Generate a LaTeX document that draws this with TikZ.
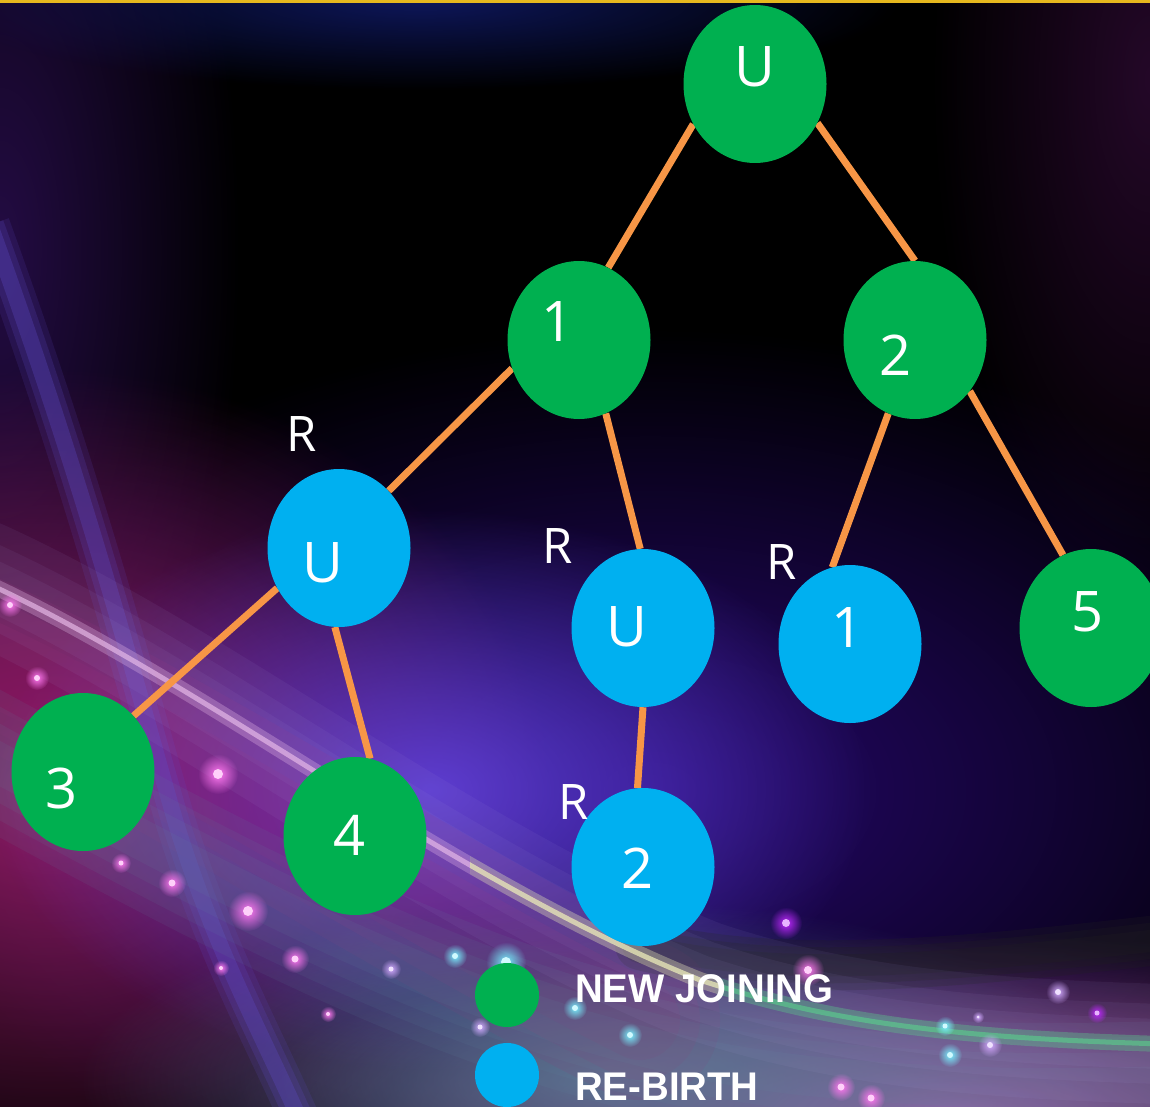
\documentclass[tikz,border=0pt]{standalone}
\usepackage{fontspec}
\setmainfont{Open Sans}
\newfontfamily\legendfont{Liberation Sans}
\usetikzlibrary{shapes.geometric,fadings}
\tikzfading[name=softglow, inner color=transparent!0, outer color=transparent!100]
\definecolor{ngreen}{HTML}{00B050}
\definecolor{nblue}{HTML}{00B0F0}
\definecolor{linkor}{HTML}{F79646}
\definecolor{goldline}{HTML}{E6B81E}
\definecolor{hazeTL}{RGB}{45,15,85}
\definecolor{hazeTR}{RGB}{45,10,50}
\definecolor{navyglow}{RGB}{15,25,100}
\definecolor{magglow}{RGB}{160,30,110}
\definecolor{vioglow}{RGB}{100,70,230}
\definecolor{indglow}{RGB}{45,10,130}
\definecolor{pinkglow}{RGB}{175,85,175}
\definecolor{lavband}{RGB}{95,75,200}
\definecolor{streakpink}{RGB}{235,190,235}
\definecolor{streakyel}{RGB}{235,235,185}
\definecolor{streakgrn}{RGB}{90,210,140}
\definecolor{tealband}{RGB}{95,140,160}
\definecolor{dotpink}{RGB}{255,120,240}
\definecolor{dotcyan}{RGB}{120,240,255}
\definecolor{dotlil}{RGB}{210,170,255}
\definecolor{dotpur}{RGB}{190,40,255}
\newcommand\bgglow[6]{\fill[#5, opacity=#6, path fading=softglow] (#1,#2) ellipse [x radius={2*#3}, y radius={2*#4}];}
\newcommand\sparkdot[4]{\fill[#3, path fading=softglow] (#1,#2) circle [radius={4*#4}]; \fill[#3!35!white] (#1,#2) circle [radius={#4}];}
\pgfdeclarelayer{front}
\pgfsetlayers{main,front}
\begin{document}
\begin{tikzpicture}[x=1pt,y=-1pt,
  treenode/.style={ellipse, minimum width=143pt, minimum height=158pt, inner sep=0pt},
  gnode/.style={treenode, fill=ngreen},
  bnode/.style={treenode, fill=nblue},
  ntext/.style={text=white, font=\fontsize{56}{60}\selectfont, inner sep=0pt},
  rtext/.style={text=white, font=\fontsize{49}{52}\selectfont, inner sep=0pt},
  legdot/.style={circle, minimum size=64pt, inner sep=0pt},
  legtext/.style={text=white, font=\legendfont\bfseries\fontsize{40}{44}\selectfont, inner sep=0pt, anchor=base west},
  link/.style={draw=linkor, line width=7pt},
  softband/.style={line cap=round, opacity=#1},
  softband/.default=.1]
\useasboundingbox (0,0) rectangle (1150,1107);
\begin{scope}
\clip (0,0) rectangle (1150,1107);
% ---------- background ----------
\fill[black] (0,0) rectangle (1150,1107);
\bgglow{0}{250}{120}{320}{hazeTL}{0.8}
\bgglow{1150}{80}{110}{260}{hazeTR}{0.8}
\bgglow{420}{0}{240}{45}{navyglow}{0.9}
\bgglow{650}{790}{380}{230}{indglow}{0.85}
\bgglow{50}{790}{250}{210}{magglow}{0.9}
\bgglow{430}{790}{220}{140}{vioglow}{0.85}
\bgglow{950}{1115}{360}{90}{pinkglow}{0.95}
\bgglow{600}{1080}{260}{90}{tealband}{0.7}
% broad diagonal magenta band
\foreach \w in {160,120,80} {
  \draw[line width=\w pt, magglow, softband=.12] (-60,640) .. controls (150,730) and (400,900) .. (640,1020);
}
% lavender band from top left
\foreach \w/\o in {40/.15,28/.2,16/.3} {
  \draw[line width=\w pt, lavband, opacity=\o] (-10,225) .. controls (90,500) and (140,700) .. (175,820) .. controls (215,950) and (260,1030) .. (300,1120);
}
% bottom teal band
\foreach \w in {130,100,70,40} {
  \draw[line width=\w pt, tealband, softband=.1] (-80,720) .. controls (250,900) and (500,1040) .. (800,1075) .. controls (950,1090) and (1050,1090) .. (1200,1085);
}
% dark grey band right
\foreach \w in {50,36,22} {
  \draw[line width=\w pt, black!75!gray, softband=.25] (640,945) .. controls (780,980) and (950,965) .. (1200,935);
}
% broad haze around streak
\foreach \w in {120,80,50} {
  \draw[line width=\w pt, lavband!50!white, softband=.07] (-20,580) .. controls (200,680) and (450,880) .. (700,980) .. controls (850,1030) and (1000,1040) .. (1200,1045);
}
% bright streak
\begin{scope}
\clip (-10,0) rectangle (470,1107);
\draw[line width=16pt, streakpink, opacity=.3] (-20,580) .. controls (200,680) and (450,880) .. (700,980);
\draw[line width=5pt, streakpink, opacity=.65] (-20,580) .. controls (200,680) and (450,880) .. (700,980);
\end{scope}
\begin{scope}
\clip (470,0) rectangle (720,1107);
\draw[line width=16pt, streakyel, opacity=.35] (-20,580) .. controls (200,680) and (450,880) .. (700,980) .. controls (850,1030) and (1000,1040) .. (1200,1045);
\draw[line width=5pt, streakyel, opacity=.75] (-20,580) .. controls (200,680) and (450,880) .. (700,980) .. controls (850,1030) and (1000,1040) .. (1200,1045);
\end{scope}
\begin{scope}
\clip (720,0) rectangle (1200,1107);
\draw[line width=16pt, streakgrn, opacity=.35] (700,980) .. controls (850,1030) and (1000,1040) .. (1200,1045);
\draw[line width=5pt, streakgrn, opacity=.6] (700,980) .. controls (850,1030) and (1000,1040) .. (1200,1045);
\end{scope}
% gold top line
\fill[goldline] (0,0) rectangle (1150,3);
% sparkles
\sparkdot{10}{605}{dotpink}{3}
\sparkdot{37}{678}{dotpink}{3}
\sparkdot{218}{774}{dotpink}{5}
\sparkdot{121}{863}{dotpink}{2.5}
\sparkdot{172}{883}{dotpink}{3.5}
\sparkdot{248}{911}{dotpink}{5}
\sparkdot{295}{959}{dotpink}{3.5}
\sparkdot{221}{968}{dotpink}{2}
\sparkdot{391}{969}{dotlil}{2.5}
\sparkdot{328}{1014}{dotpink}{2}
\sparkdot{455}{956}{dotcyan}{3}
\sparkdot{506}{962}{dotcyan}{5}
\sparkdot{575}{1008}{dotcyan}{3}
\sparkdot{480}{1027}{dotlil}{2.5}
\sparkdot{630}{1035}{dotcyan}{3}
\sparkdot{786}{923}{dotpur}{4}
\sparkdot{808}{970}{dotpink}{4}
\sparkdot{945}{1026}{dotcyan}{2.5}
\sparkdot{978}{1017}{dotlil}{1.5}
\sparkdot{990}{1045}{dotlil}{3}
\sparkdot{950}{1055}{dotcyan}{3}
\sparkdot{1058}{992}{dotlil}{3}
\sparkdot{1097}{1013}{dotpur}{2.5}
\sparkdot{841}{1087}{dotpink}{3.5}
\sparkdot{871}{1098}{dotpink}{3.5}
% ---------- tree nodes ----------
\begin{pgfonlayer}{front}
\node[gnode] (nU) at (755,84) {};
\node[gnode] (n1) at (579,340) {};
\node[gnode] (n2) at (915,340) {};
\node[bnode] (bU1) at (339,548) {};
\node[bnode] (bU2) at (643,628) {};
\node[bnode] (b1) at (850,644) {};
\node[gnode] (g5) at (1091,628) {};
\node[gnode] (g3) at (83,772) {};
\node[gnode] (g4) at (355,836) {};
\node[bnode] (b2) at (643,867) {};
\node[ntext] (tU) at (755,67) {U};
\node[ntext] (t1) at (558,322) {1};
\node[ntext] (t2) at (895,355) {2};
\node[ntext] (tbU1) at (323,563) {U};
\node[ntext] (tbU2) at (627,627) {U};
\node[ntext] (tb1) at (847,628) {1};
\node[ntext] (t5) at (1087,612) {5};
\node[ntext] (t3) at (62,788) {3};
\node[ntext] (t4) at (350,835) {4};
\node[ntext] (tb2) at (638,868) {2};
\node[rtext] (rA) at (302,434) {R};
\node[rtext] (rB) at (558,546) {R};
\node[rtext] (rC) at (782,562) {R};
\node[rtext] (rD) at (574,802) {R};
% legend
\node[legdot, fill=ngreen] (lg) at (507,995) {};
\node[legdot, fill=nblue] (lb) at (507,1075) {};
\node[legtext] (lgt) at (575,1002) {\scalebox{0.96}[1]{NEW JOINING}};
\node[legtext] (lbt) at (575,1100) {\scalebox{0.96}[1]{RE-BIRTH}};
\end{pgfonlayer}
% ---------- connectors ----------
\draw[link] (nU.213) -- (n1.68);
\draw[link] (nU.328) -- (n2.90);
\draw[link] (n1.203) -- (bU1.49);
\draw[link] (n1.290) -- (bU2.92);
\draw[link] (n2.250) -- (b1.103);
\draw[link] (n2.317) -- (g5.111);
\draw[link] (bU1.213) -- (g3.48);
\draw[link] (bU1.267) -- (g4.79);
\draw[link] (bU2.270) -- (b2.94);
\end{scope}
\end{tikzpicture}
\end{document}
